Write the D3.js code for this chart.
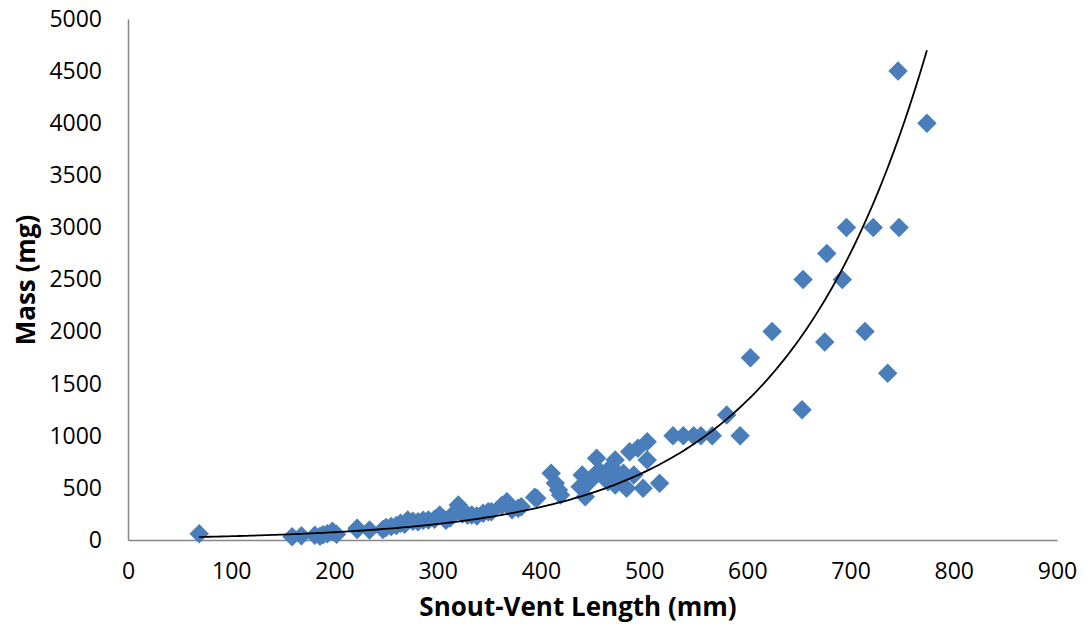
<!DOCTYPE html>
<html><head><meta charset="utf-8">
<script src="https://cdn.jsdelivr.net/npm/d3@7/dist/d3.min.js"></script>
<style>
body{margin:0;background:#fff;}
svg{display:block;}
text{font-family:"Open Sans",sans-serif;fill:#000;}
</style></head>
<body><svg id="c" width="1091" height="632"></svg>
<script>
// Snout-vent length (mm)
const svl = [69,
 159,168,181,186,189,193,198,202,
 222,222,234,247,250,255,260,264,268,271,276,281,286,291,297,302,308,312,316,320,324,329,333,338,344,349,352,362,367,372,378,381,394,396,
 410,414,417,419,
 438,440,443,447,450,452,454,458,462,465,468,472,472,476,480,483,486,490,494,499,503,503,515,
 528,538,548,555,566,580,593,603,624,653,654,675,677,692,696,714,722,736,747,746,774];
// Mass (mg)
const mass = [60,
 32,40,45,35,50,60,85,55,
 112,100,96,100,120,130,140,160,150,192,180,176,190,192,200,240,190,210,260,336,250,240,240,230,256,270,272,330,368,290,304,320,410,400,
 640,544,480,432,
 512,624,416,560,600,624,784,650,608,560,700,768,528,600,640,496,848,624,880,496,943,768,544,
 1000,1000,1000,1000,1000,1200,1000,1750,2000,1250,2500,1900,2750,2500,3000,2000,3000,1600,3000,4500,4000];
// Exponential trend coefficients (mass = trendA * e^(trendB * svl))
const trendA = 17.63;
const trendB = 0.007217;
const xTicks = [0,100,200,300,400,500,600,700,800,900];
const yTicks = [0,500,1000,1500,2000,2500,3000,3500,4000,4500,5000];
const xTitle = "Snout-Vent Length (mm)";
const yTitle = "Mass (mg)";

const svg = d3.select("#c");
const x = d3.scaleLinear().domain([0,900]).range([128,1057]);
const y = d3.scaleLinear().domain([0,5000]).range([540,19]);

const axisColor = "#868686";
// x axis
const gx = svg.append("g").attr("transform","translate(0,540)")
  .call(d3.axisBottom(x).tickValues(xTicks).tickSize(0).tickPadding(23).tickFormat(d3.format("d")));
gx.select(".domain").attr("stroke",axisColor).attr("stroke-width",1.5);
gx.selectAll("text").attr("font-size",23).attr("font-family","Open Sans, sans-serif").attr("fill","#000");
// y axis
const gy = svg.append("g").attr("transform","translate(128,0)")
  .call(d3.axisLeft(y).tickValues(yTicks).tickSize(0).tickPadding(26).tickFormat(d3.format("d")));
gy.select(".domain").attr("stroke",axisColor).attr("stroke-width",1.5);
gy.selectAll("text").attr("font-size",23).attr("font-family","Open Sans, sans-serif").attr("fill","#000");

// points
const data = svl.map((v,i)=>({x:v,y:mass[i]}));
const sym = d3.symbol().type(d3.symbolSquare).size(190);
svg.append("g").selectAll("path").data(data).join("path")
  .attr("d",sym)
  .attr("transform",d=>`translate(${x(d.x)},${y(d.y)}) rotate(45)`)
  .attr("fill","#4a7ebb");

// trend line
const xmin = d3.min(svl), xmax = d3.max(svl);
const trendPts = d3.range(0,201).map(i=>{const v = xmin + (xmax-xmin)*i/200; return [v, trendA*Math.exp(trendB*v)];});
svg.append("path").datum(trendPts)
  .attr("d",d3.line().x(d=>x(d[0])).y(d=>y(d[1])))
  .attr("fill","none").attr("stroke","#000").attr("stroke-width",1.8);

// titles
svg.append("text").attr("x",578).attr("y",616).attr("text-anchor","middle")
  .attr("font-size",26).attr("font-weight","bold").text(xTitle);
svg.append("text").attr("transform","translate(35,280) rotate(-90)").attr("text-anchor","middle")
  .attr("font-size",26).attr("font-weight","bold").text(yTitle);
</script></body></html>
